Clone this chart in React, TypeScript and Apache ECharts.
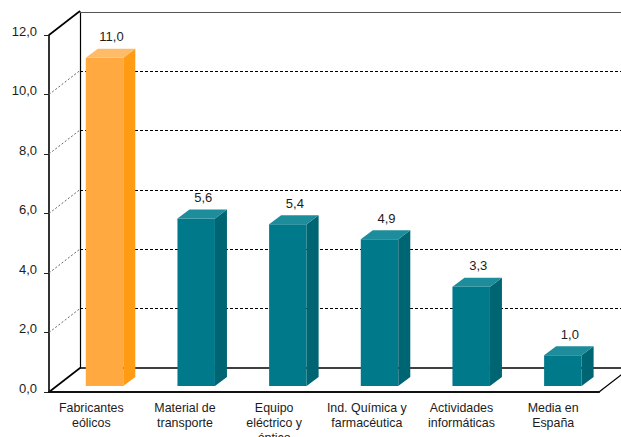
import React, { useEffect, useRef } from "react";
import * as echarts from "echarts";

// Growth by sector, drawn as 3D-looking columns standing in a box.
const categories = [
  "Fabricantes\neólicos",
  "Material de\ntransporte",
  "Equipo\neléctrico y\nóptico",
  "Ind. Química y\nfarmacéutica",
  "Actividades\ninformáticas",
  "Media en\nEspaña",
];
const values = [11.0, 5.6, 5.4, 4.9, 3.3, 1.0];
const highlighted = [true, false, false, false, false, false];
const yTicks = [0, 2, 4, 6, 8, 10, 12];

const FONT = "'Liberation Sans', Arial, sans-serif";
const INK = "#1c1c1c";

const ORANGE = { front: "#FFA940", side: "#FF9C14", top: "#FFBC68" };
const TEAL = { front: "#007A8B", side: "#006572", top: "#1E8D9B" };

// Right padding that pulls each centred category label a little to the left.
const LABEL_PULL = [7, 3, 8, 6, 0, 0];

// Box depth, and the depth of a column inside it.
const WALL_DX = 31;
const WALL_DY = 24;
const BAR_DX = 12;
const BAR_DY = 9;
const BAR_W = 37.5;
const BAR_SHIFT_X = 9.7;
const BAR_SHIFT_Y = 6;

const comma = (v: number) => v.toFixed(1).replace(".", ",");

function renderBar(_params: any, api: any) {
  const i = api.value(0);
  const v = api.value(1);
  const base = api.coord([i, 0]);
  const head = api.coord([i, v]);
  const x0 = base[0] + BAR_SHIFT_X - BAR_W / 2;
  const x1 = x0 + BAR_W;
  const yb = base[1] - BAR_SHIFT_Y;
  const yt = head[1] - BAR_SHIFT_Y - 1;
  const c = highlighted[i] ? ORANGE : TEAL;
  return {
    type: "group",
    children: [
      { type: "rect", shape: { x: x0, y: yt, width: BAR_W, height: yb - yt }, style: { fill: c.front } },
      {
        type: "polygon",
        shape: { points: [[x1, yt], [x1 + BAR_DX, yt - BAR_DY], [x1 + BAR_DX, yb - BAR_DY], [x1, yb]] },
        style: { fill: c.side },
      },
      {
        type: "polygon",
        shape: { points: [[x0, yt], [x0 + BAR_DX, yt - BAR_DY], [x1 + BAR_DX, yt - BAR_DY], [x1, yt]] },
        style: { fill: c.top },
      },
      {
        type: "text",
        style: {
          text: comma(v),
          x: x0 + BAR_W / 2 + 7,
          y: yt - BAR_DY - 12,
          align: "center",
          verticalAlign: "middle",
          font: `13px ${FONT}`,
          fill: INK,
        },
      },
    ],
  };
}

// Diagonals joining the front value axis to the back wall, plus the floor's right edge.
function renderFrame(params: any, api: any) {
  const v = api.value(1);
  const left = params.coordSys.x;
  const right = left + params.coordSys.width;
  const y = api.coord([0, v])[1];
  const solid = v === 0 || v === 12;
  const children: any[] = [
    {
      type: "line",
      shape: { x1: left, y1: y, x2: left + WALL_DX, y2: y - WALL_DY },
      style: solid
        ? { stroke: "#000", lineWidth: 1.6 }
        : { stroke: "#666", lineWidth: 1, lineDash: [2, 2] },
    },
  ];
  if (v === 0) {
    children.push({
      type: "line",
      shape: { x1: right, y1: y, x2: right + WALL_DX, y2: y - WALL_DY },
      style: { stroke: "#000", lineWidth: 1.3 },
    });
  }
  return { type: "group", children };
}

export default function App() {
  const ref = useRef<HTMLDivElement>(null);

  useEffect(() => {
    document.body.style.margin = "0";
    const chart = echarts.init(ref.current!, null, { renderer: "svg" });
    chart.setOption({
      animation: false,
      backgroundColor: "#fff",
      grid: [
        { left: 49, top: 35, width: 550, height: 357, outerBoundsMode: "none" },
        { left: 80, top: 12, width: 541, height: 356, outerBoundsMode: "none" },
      ],
      xAxis: [
        {
          type: "category",
          gridIndex: 0,
          data: categories.map((value, i) => ({
            value,
            textStyle: { padding: [0, LABEL_PULL[i], 0, 0] },
          })),
          axisLine: { lineStyle: { color: "#111", width: 2 } },
          axisTick: { length: 6, lineStyle: { color: "#222", width: 1 } },
          axisLabel: {
            interval: 0,
            margin: 8,
            lineHeight: 15,
            fontSize: 12.4,
            fontFamily: FONT,
            color: INK,
            verticalAlign: "top",
          },
          z: 4,
        },
        {
          type: "value",
          gridIndex: 1,
          min: 0,
          max: 1,
          position: "bottom",
          axisLine: { show: true, onZero: false, lineStyle: { color: "#000", width: 1.6 } },
          axisTick: { show: false },
          axisLabel: { show: false },
          splitLine: { show: false },
        },
        {
          type: "value",
          gridIndex: 1,
          min: 0,
          max: 1,
          position: "top",
          axisLine: { show: true, onZero: false, lineStyle: { color: "#555", width: 1 } },
          axisTick: { show: false },
          axisLabel: { show: false },
          splitLine: { show: false },
        },
      ],
      yAxis: [
        {
          type: "value",
          gridIndex: 0,
          min: 0,
          max: 12,
          interval: 2,
          axisLine: { show: true, lineStyle: { color: "#000", width: 1.6 } },
          axisTick: { show: true, length: 5, lineStyle: { color: "#222", width: 1 } },
          axisLabel: {
            margin: 12,
            fontSize: 13,
            fontFamily: FONT,
            color: INK,
            verticalAlign: "bottom",
            lineHeight: 8,
            formatter: (v: number) => comma(v),
          },
          splitLine: { show: false },
        },
        {
          type: "value",
          gridIndex: 1,
          min: 0,
          max: 12,
          interval: 2,
          axisLine: { show: true, lineStyle: { color: "#000", width: 1.2 } },
          axisTick: { show: false },
          axisLabel: { show: false },
          splitLine: {
            show: true,
            showMinLine: false,
            showMaxLine: false,
            lineStyle: { color: "#000", width: 1, type: [3, 2] },
          },
        },
      ],
      series: [
        {
          type: "custom",
          name: "frame",
          xAxisIndex: 0,
          yAxisIndex: 0,
          clip: false,
          silent: true,
          z: 3,
          renderItem: renderFrame,
          encode: { x: 0, y: 1 },
          data: yTicks.map((v) => [0, v]),
        },
        {
          type: "custom",
          name: "crecimiento",
          xAxisIndex: 0,
          yAxisIndex: 0,
          clip: false,
          z: 5,
          renderItem: renderBar,
          encode: { x: 0, y: 1 },
          data: values.map((v, i) => [i, v]),
        },
      ],
    });
    return () => chart.dispose();
  }, []);

  return <div ref={ref} style={{ width: 621, height: 437 }} />;
}
